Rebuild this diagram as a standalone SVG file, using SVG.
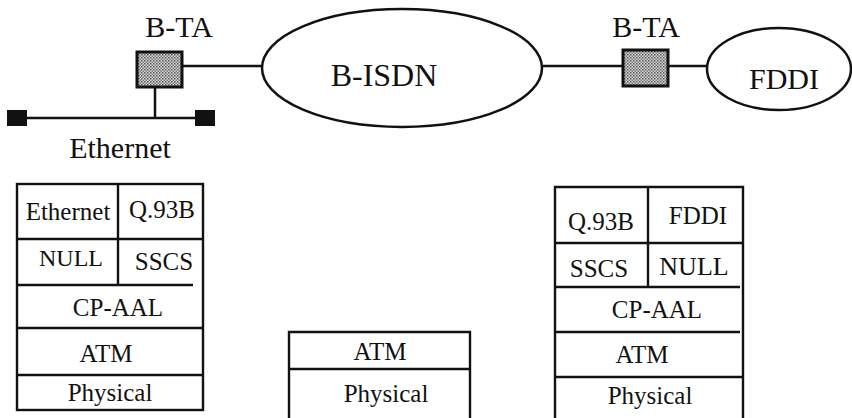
<svg xmlns="http://www.w3.org/2000/svg" width="852" height="418" viewBox="0 0 852 418">
  <style>
    text { font-family: "Liberation Serif", "Noto Serif", "DejaVu Serif", serif; fill: #111; text-anchor: middle; }
    .big { font-size: 30px; }
    .lay { font-size: 25px; }
    .edge { stroke: #111; stroke-width: 2.5; fill: none; }
    .cell { stroke: #111; stroke-width: 2.4; fill: none; }
    .ta { stroke: #111; stroke-width: 3; fill: url(#stipple); }
    .net { stroke: #111; stroke-width: 2.5; fill: #fff; }
  </style>
  <defs>
    <pattern id="stipple" width="3" height="3" patternUnits="userSpaceOnUse">
      <rect width="3" height="3" fill="#d8d8d8"/>
      <rect x="0" y="0" width="1.5" height="1.5" fill="#555"/>
      <rect x="1.5" y="1.5" width="1.5" height="1.5" fill="#777"/>
    </pattern>
  </defs>

  <!-- links between terminal adapters, networks and the Ethernet bus -->
  <g id="connectors">
    <line class="edge" x1="182" y1="66" x2="262" y2="66"/>
    <line class="edge" x1="543" y1="66" x2="623" y2="66"/>
    <line class="edge" x1="668" y1="66" x2="707" y2="66"/>
    <line class="edge" x1="155" y1="87" x2="155" y2="118"/>
    <circle cx="155" cy="86" r="2.2" fill="#111"/>
    <line class="edge" x1="26" y1="118" x2="196" y2="118"/>
  </g>

  <!-- Ethernet segment -->
  <g id="ethernet">
    <rect x="7" y="110" width="20" height="16" fill="#111"/>
    <rect x="195" y="110" width="20" height="16" fill="#111"/>
    <text class="big" x="120" y="158">Ethernet</text>
  </g>

  <!-- terminal adapter on the Ethernet side -->
  <g id="bta-left">
    <rect class="ta" x="137" y="52" width="45" height="35"/>
    <text class="big" x="179" y="37">B-TA</text>
  </g>

  <!-- broadband network -->
  <g id="bisdn">
    <ellipse class="net" cx="402" cy="68" rx="140" ry="59"/>
    <text class="big" x="384" y="86" style="font-size:32px">B-ISDN</text>
  </g>

  <!-- terminal adapter on the FDDI side -->
  <g id="bta-right">
    <rect class="ta" x="623" y="50" width="45" height="36"/>
    <text class="big" x="646" y="37">B-TA</text>
  </g>

  <!-- FDDI ring -->
  <g id="fddi">
    <ellipse class="net" cx="779" cy="69" rx="72" ry="41"/>
    <text class="big" x="784" y="89">FDDI</text>
  </g>

  <!-- protocol stack of the Ethernet-side adapter -->
  <g id="stack-left">
    <rect class="cell" x="17" y="184" width="186" height="226"/>
    <line class="cell" x1="118" y1="184" x2="118" y2="285"/>
    <line class="cell" x1="17" y1="239" x2="203" y2="239"/>
    <line class="cell" x1="17" y1="285" x2="193" y2="285"/>
    <line class="cell" x1="17" y1="328" x2="203" y2="328"/>
    <line class="cell" x1="17" y1="375" x2="203" y2="375"/>
    <text class="lay" x="68" y="220">Ethernet</text>
    <text class="lay" x="162" y="218">Q.93B</text>
    <text class="lay" x="71" y="266" style="font-size:24px">NULL</text>
    <text class="lay" x="164" y="270">SSCS</text>
    <text class="lay" x="118" y="316">CP-AAL</text>
    <text class="lay" x="106" y="362">ATM</text>
    <text class="lay" x="110" y="401">Physical</text>
  </g>

  <!-- protocol stack of the network switch -->
  <g id="stack-middle">
    <polyline class="cell" points="289,420 289,332 470,332 470,420"/>
    <line class="cell" x1="289" y1="369" x2="470" y2="369"/>
    <text class="lay" x="380" y="360">ATM</text>
    <text class="lay" x="386" y="402">Physical</text>
  </g>

  <!-- protocol stack of the FDDI-side adapter -->
  <g id="stack-right">
    <polyline class="cell" points="555,420 555,187 743,187 743,420"/>
    <line class="cell" x1="648" y1="187" x2="648" y2="287"/>
    <line class="cell" x1="555" y1="243" x2="743" y2="243"/>
    <line class="cell" x1="555" y1="287" x2="740" y2="287"/>
    <line class="cell" x1="555" y1="332" x2="740" y2="332"/>
    <line class="cell" x1="555" y1="377" x2="743" y2="377"/>
    <text class="lay" x="601" y="230">Q.93B</text>
    <text class="lay" x="698" y="224">FDDI</text>
    <text class="lay" x="599" y="277">SSCS</text>
    <text class="lay" x="694" y="275" style="font-size:26px">NULL</text>
    <text class="lay" x="657" y="318">CP-AAL</text>
    <text class="lay" x="642" y="363">ATM</text>
    <text class="lay" x="650" y="404">Physical</text>
  </g>
</svg>
